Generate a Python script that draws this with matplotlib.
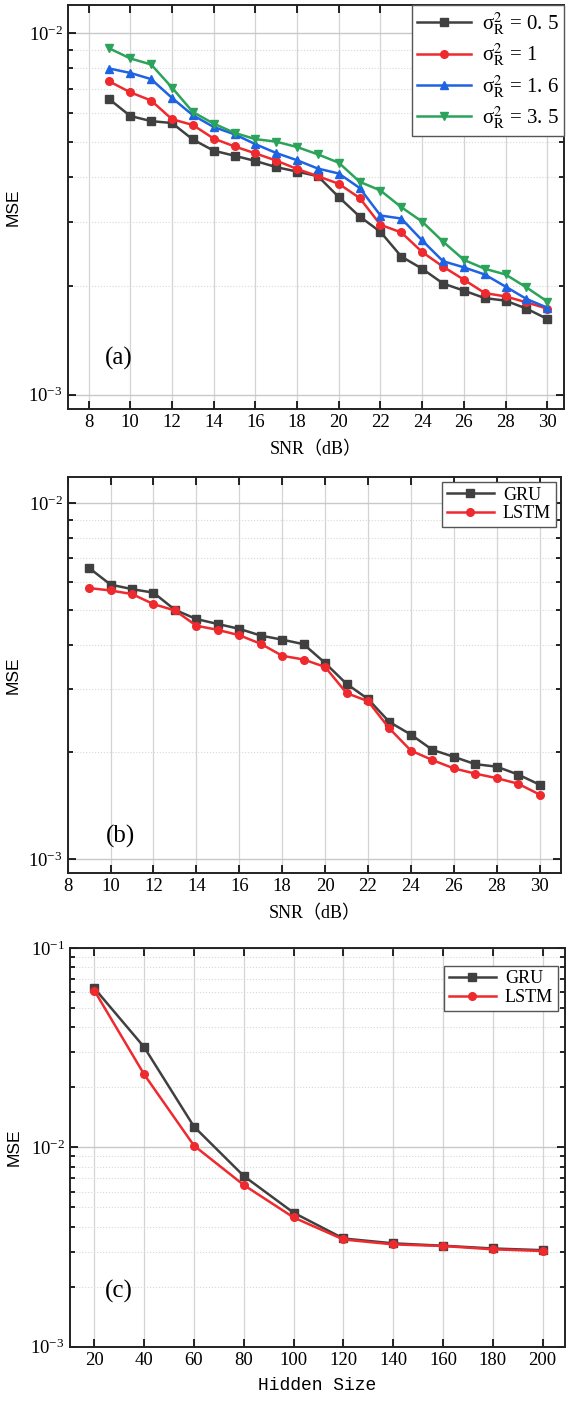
import numpy as np
import matplotlib
matplotlib.use('Agg')
import matplotlib.pyplot as plt
from matplotlib.ticker import LogLocator, NullFormatter, MultipleLocator

plt.rcParams['font.family'] = ['Liberation Serif', 'Noto Sans CJK SC', 'DejaVu Sans']
plt.rcParams['mathtext.fontset'] = 'stix'

# ---------------------------------------------------------------------------
# Data
# ---------------------------------------------------------------------------
snr = [9, 10, 11, 12, 13, 14, 15, 16, 17, 18, 19, 20,
       21, 22, 23, 24, 25, 26, 27, 28, 29, 30]

mse_s05 = [6.56e-3, 5.90e-3, 5.71e-3, 5.64e-3, 5.08e-3, 4.73e-3, 4.58e-3, 4.43e-3,
           4.26e-3, 4.14e-3, 4.02e-3, 3.52e-3, 3.11e-3, 2.82e-3, 2.41e-3, 2.23e-3,
           2.03e-3, 1.94e-3, 1.85e-3, 1.82e-3, 1.73e-3, 1.62e-3]
mse_s1 = [7.35e-3, 6.86e-3, 6.51e-3, 5.78e-3, 5.57e-3, 5.11e-3, 4.86e-3, 4.65e-3,
          4.44e-3, 4.21e-3, 4.02e-3, 3.83e-3, 3.50e-3, 2.95e-3, 2.81e-3, 2.48e-3,
          2.26e-3, 2.08e-3, 1.91e-3, 1.87e-3, 1.80e-3, 1.73e-3]
mse_s16 = [7.98e-3, 7.76e-3, 7.46e-3, 6.62e-3, 5.93e-3, 5.50e-3, 5.25e-3, 4.93e-3,
           4.66e-3, 4.45e-3, 4.22e-3, 4.09e-3, 3.73e-3, 3.13e-3, 3.07e-3, 2.67e-3,
           2.34e-3, 2.25e-3, 2.15e-3, 1.99e-3, 1.84e-3, 1.74e-3]
mse_s35 = [9.07e-3, 8.51e-3, 8.19e-3, 7.07e-3, 6.05e-3, 5.62e-3, 5.30e-3, 5.09e-3,
           5.01e-3, 4.84e-3, 4.62e-3, 4.38e-3, 3.88e-3, 3.67e-3, 3.30e-3, 3.01e-3,
           2.65e-3, 2.36e-3, 2.23e-3, 2.15e-3, 1.98e-3, 1.81e-3]
sigma_labels = ['0. 5', '1', '1. 6', '3. 5']

gru_snr = [6.58e-3, 5.91e-3, 5.74e-3, 5.61e-3, 5.02e-3, 4.73e-3, 4.58e-3, 4.44e-3,
           4.25e-3, 4.14e-3, 4.02e-3, 3.56e-3, 3.11e-3, 2.82e-3, 2.43e-3, 2.24e-3,
           2.03e-3, 1.94e-3, 1.85e-3, 1.82e-3, 1.73e-3, 1.62e-3]
lstm_snr = [5.78e-3, 5.69e-3, 5.56e-3, 5.21e-3, 5.00e-3, 4.53e-3, 4.41e-3, 4.26e-3,
            4.03e-3, 3.73e-3, 3.64e-3, 3.47e-3, 2.93e-3, 2.78e-3, 2.33e-3, 2.02e-3,
            1.90e-3, 1.80e-3, 1.74e-3, 1.69e-3, 1.63e-3, 1.52e-3]

hidden = [20, 40, 60, 80, 100, 120, 140, 160, 180, 200]
gru_hid = [6.28e-2, 3.18e-2, 1.27e-2, 7.18e-3, 4.70e-3, 3.49e-3, 3.30e-3, 3.21e-3,
           3.11e-3, 3.05e-3]
lstm_hid = [6.11e-2, 2.32e-2, 1.02e-2, 6.47e-3, 4.45e-3, 3.45e-3, 3.26e-3, 3.20e-3,
            3.08e-3, 3.02e-3]

# ---------------------------------------------------------------------------
C_BLACK = '#404040'
C_RED = '#ee2a2e'
C_BLUE = '#1d63e2'
C_GREEN = '#2ba35a'

W, H = 566, 1410
fig = plt.figure(figsize=(W / 100, H / 100), dpi=100)


def px_axes(left, top, right, bottom):
    return fig.add_axes([left / W, 1 - bottom / H, (right - left) / W, (bottom - top) / H])


def style_axes(ax, ylim, xlim, xstep):
    ax.set_yscale('log')
    ax.set_ylim(*ylim)
    ax.set_xlim(*xlim)
    ax.xaxis.set_major_locator(MultipleLocator(xstep))
    ax.yaxis.set_major_locator(LogLocator(base=10))
    ax.yaxis.set_minor_locator(LogLocator(base=10, subs=np.arange(2, 10)))
    ax.yaxis.set_minor_formatter(NullFormatter())
    ax.tick_params(which='both', direction='in', top=True, right=True,
                   labelsize=13.5, width=1.2)
    ax.tick_params(which='major', length=6)
    ax.tick_params(which='minor', length=3.5)
    ax.tick_params(axis='x', which='minor', top=False, bottom=False)
    ax.grid(True, which='major', axis='x', color='#d4d4d4', lw=0.9)
    ax.grid(True, which='major', axis='y', color='#c8c8c8', lw=1.0)
    ax.grid(True, which='minor', axis='y', color='#d8d8d8', lw=0.8, ls=':')
    for s in ax.spines.values():
        s.set_linewidth(1.4)
        s.set_color('#222222')
    ax.set_ylabel('MSE', fontsize=12.5, labelpad=6,
                  family=['Liberation Sans Narrow', 'Liberation Sans', 'DejaVu Sans'])


line_kw = dict(lw=1.8, ms=5.5)

# (a) ----------------------------------------------------------------------
ax = px_axes(67.7, 5, 564, 409)
for vals, fmt, col, lab in zip([mse_s05, mse_s1, mse_s16, mse_s35],
                               ['s-', 'o-', '^-', 'v-'],
                               [C_BLACK, C_RED, C_BLUE, C_GREEN], sigma_labels):
    ax.plot(snr, vals, fmt, color=col, label='σ$^{2}_{\\mathrm{R}}$ = ' + lab, **line_kw)
style_axes(ax, (9.13e-4, 1.196e-2), (7, 30.8), 2)
ax.set_xlabel('SNR（dB）', fontsize=13, labelpad=7)
ax.text(0.075, 0.126, '(a)', transform=ax.transAxes, fontsize=18, va='center')
leg = ax.legend(loc='upper right', fontsize=15, fancybox=False, framealpha=1,
                edgecolor='#555555', handlelength=2.6, labelspacing=0.22,
                borderaxespad=0.0, borderpad=0.25, handletextpad=0.5)
leg.get_frame().set_linewidth(1.0)

# (b) ----------------------------------------------------------------------
ax = px_axes(67.7, 476.7, 561, 873.3)
ax.plot(snr, gru_snr, 's-', color=C_BLACK, label='GRU', **line_kw)
ax.plot(snr, lstm_snr, 'o-', color=C_RED, label='LSTM', **line_kw)
style_axes(ax, (9.13e-4, 1.188e-2), (8, 31), 2)
ax.set_xlabel('SNR（dB）', fontsize=13, labelpad=7)
ax.text(0.078, 0.092, '(b)', transform=ax.transAxes, fontsize=18, va='center')
leg = ax.legend(loc='upper right', fontsize=13, fancybox=False, framealpha=1,
                edgecolor='#555555', handlelength=2.6, labelspacing=0.1,
                borderaxespad=0.3, borderpad=0.25, handletextpad=0.5)
leg.get_frame().set_linewidth(1.0)

# (c) ----------------------------------------------------------------------
ax = px_axes(69.5, 948, 565, 1346.7)
ax.plot(hidden, gru_hid, 's-', color=C_BLACK, label='GRU', **line_kw)
ax.plot(hidden, lstm_hid, 'o-', color=C_RED, label='LSTM', **line_kw)
style_axes(ax, (1e-3, 1e-1), (10, 209), 20)
ax.set_xlabel('Hidden Size', fontsize=13, labelpad=6, family='Liberation Mono')
ax.text(0.072, 0.138, '(c)', transform=ax.transAxes, fontsize=18, va='center')
leg = ax.legend(loc='upper right', fontsize=13, fancybox=False, framealpha=1,
                edgecolor='#555555', handlelength=2.6, labelspacing=0.1,
                borderaxespad=0.0, borderpad=0.25, handletextpad=0.5,
                bbox_to_anchor=(0.985, 0.955))
leg.get_frame().set_linewidth(1.0)

plt.savefig('out.png', dpi=100)
